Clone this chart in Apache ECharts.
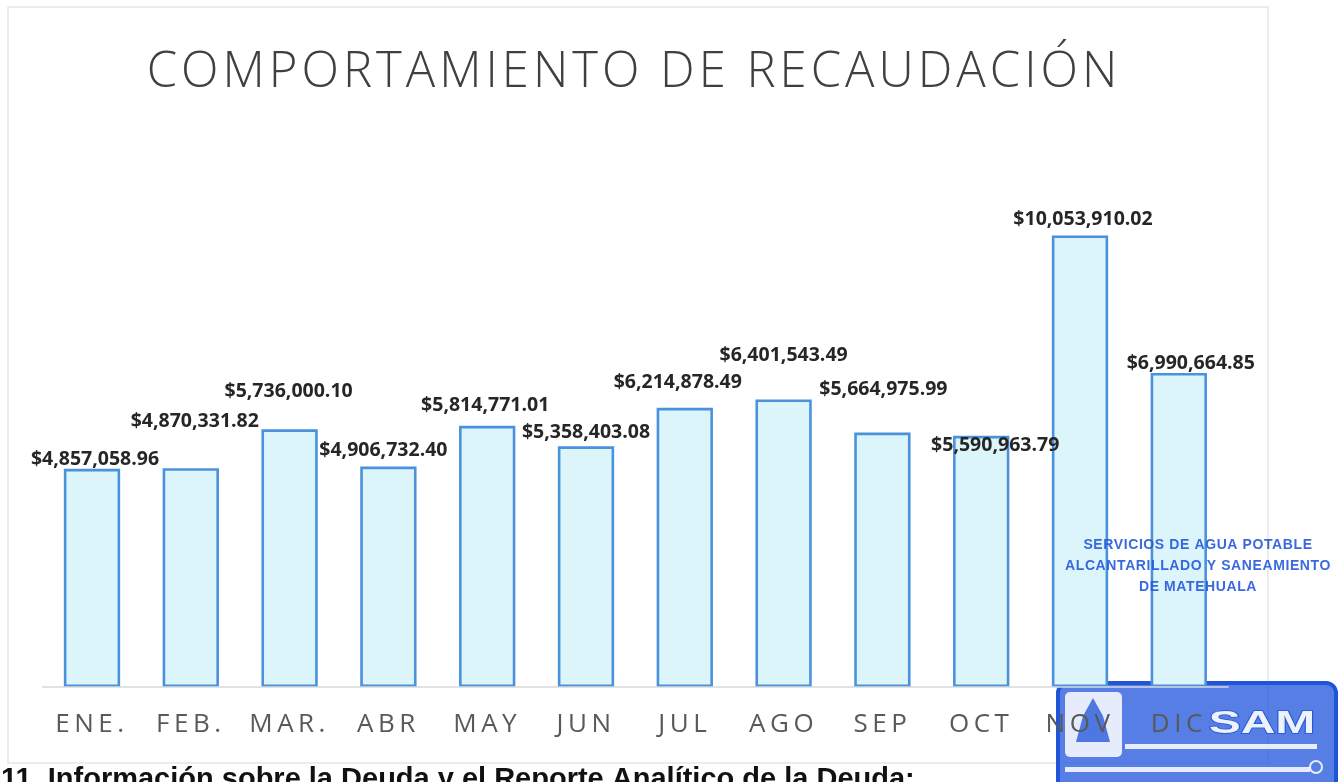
<!DOCTYPE html>
<html>
<head>
<meta charset="utf-8">
<title>Comportamiento de recaudación</title>
<script src="https://cdn.jsdelivr.net/npm/echarts@6/dist/echarts.min.js"></script>
<style>
  html, body { margin: 0; padding: 0; background: #ffffff; }
  #chart { width: 1342px; height: 782px; }
</style>
</head>
<body>
<div id="chart"></div>
<script>
// Monthly revenue collected
const months = ['ENE.', 'FEB.', 'MAR.', 'ABR', 'MAY', 'JUN', 'JUL', 'AGO', 'SEP', 'OCT', 'NOV', 'DIC'];
const recaudacion = [4857058.96, 4870331.82, 5736000.10, 4906732.40, 5814771.01, 5358403.08,
                     6214878.49, 6401543.49, 5664975.99, 5590963.79, 10053910.02, 6990664.85];
const titulo = 'COMPORTAMIENTO DE RECAUDACIÓN';
const sello = ['SERVICIOS DE AGUA POTABLE', 'ALCANTARILLADO Y SANEAMIENTO', 'DE MATEHUALA'];
const pie = '11. Información sobre la Deuda y el Reporte Analítico de la Deuda:';

// Hand-placed data label nudges [dx, dy]
const labelNudge = [[3, 4], [4, -34], [-1, -25], [-5, -3], [-2, -7], [0, -1],
                    [-7, -12], [0, -31], [1, -30], [14, 23], [3, -3], [12, 3]];

// Tracking for the spaced-out title and month names
(function () {
  const proto = CanvasRenderingContext2D.prototype;
  if (!('letterSpacing' in proto)) return;
  const orig = proto.fillText;
  proto.fillText = function (t, x, y, w) {
    const f = this.font || '';
    let ls = '0px';
    if (/\b49px/.test(f)) ls = '4px';
    else if (/\b26px/.test(f)) ls = '4.5px';
    else if (/\b14px/.test(f)) ls = '0.6px';
    this.letterSpacing = ls;
    const r = w === undefined ? orig.call(this, t, x, y) : orig.call(this, t, x, y, w);
    this.letterSpacing = '0px';
    return r;
  };
})();

const fmt = v => '$' + v.toLocaleString('en-US', { minimumFractionDigits: 2, maximumFractionDigits: 2 });

const chart = echarts.init(document.getElementById('chart'), null, { renderer: 'canvas' });

const inkBlue = '#2459dc';

chart.setOption({
  backgroundColor: '#ffffff',
  animation: false,
  title: {
    text: titulo,
    left: 629,
    textAlign: 'center',
    top: 44,
    textStyle: { fontFamily: 'Open Sans', fontWeight: 300, fontSize: 49, color: '#404040' }
  },
  grid: { left: 42.6, right: 113.8, top: 148, bottom: 95 },
  xAxis: {
    type: 'category',
    data: months,
    z: 5,
    axisLine: { show: true, lineStyle: { color: '#d9d9d9', width: 1.5 } },
    axisTick: { show: false },
    axisLabel: { margin: 25, fontFamily: 'Open Sans', fontSize: 26, color: '#595959' }
  },
  yAxis: { type: 'value', min: 0, max: 12000000, show: false, splitLine: { show: false } },
  series: [{
    type: 'bar',
    barWidth: '57%',
    data: recaudacion.map((v, i) => ({
      value: v,
      label: { offset: labelNudge[i] }
    })),
    itemStyle: { color: '#dcf5fb', borderColor: '#4a92dc', borderWidth: 2.6 },
    label: {
      show: true,
      position: 'top',
      distance: 3,
      formatter: p => fmt(p.value),
      fontFamily: 'Open Sans',
      fontWeight: 'bold',
      fontSize: 19.5,
      color: '#262626'
    }
  }],
  graphic: [
    // chart frame
    { type: 'rect', shape: { x: 8, y: 7, width: 1260, height: 756 },
      style: { fill: 'none', stroke: '#e6e6e6', lineWidth: 1.5 }, z: -10 },
    // caption below the chart
    { type: 'text', x: 1, y: 780,
      style: { text: pie, fontFamily: 'Liberation Sans', fontWeight: 'bold', fontSize: 29,
               fill: '#111111', verticalAlign: 'middle' } },
    // ink stamp text
    { type: 'text', x: 1198, y: 566,
      style: { text: sello.join('\n'), fontFamily: 'Liberation Sans', fontWeight: 'bold', fontSize: 14,
               lineHeight: 21, fill: inkBlue, opacity: 0.9, align: 'center', verticalAlign: 'middle' }, z: 20 },
    // ink stamp badge
    { type: 'rect', z: -2, shape: { x: 1058, y: 683, width: 278, height: 112, r: 10 },
      style: { fill: 'rgba(40,90,220,0.78)', stroke: '#1f55d6', lineWidth: 4 } },
    { type: 'rect', z: -1, shape: { x: 1065, y: 692, width: 57, height: 65, r: 5 },
      style: { fill: 'rgba(255,255,255,0.85)' } },
    { type: 'polygon', z: -1, shape: { points: [[1093, 698], [1103, 716], [1110, 742], [1076, 742], [1083, 716]] },
      style: { fill: 'rgba(40,90,220,0.8)' } },
    { type: 'text', z: -1, x: 1262, y: 724, scaleX: 1.5,
      style: { text: 'SAM', fontFamily: 'Liberation Sans', fontWeight: 'bold', fontSize: 32,
               fill: 'rgba(255,255,255,0.9)', stroke: '#1f55d6', lineWidth: 1.5,
               align: 'center', verticalAlign: 'middle' } },
    { type: 'rect', z: -1, shape: { x: 1125, y: 744, width: 192, height: 5 },
      style: { fill: 'rgba(255,255,255,0.85)' } },
    { type: 'rect', z: -1, shape: { x: 1065, y: 767, width: 245, height: 5 },
      style: { fill: 'rgba(255,255,255,0.85)' } },
    { type: 'circle', z: -1, shape: { cx: 1316, cy: 767, r: 6 },
      style: { fill: 'none', stroke: 'rgba(255,255,255,0.85)', lineWidth: 2 } }
  ]
});
</script>
</body>
</html>
